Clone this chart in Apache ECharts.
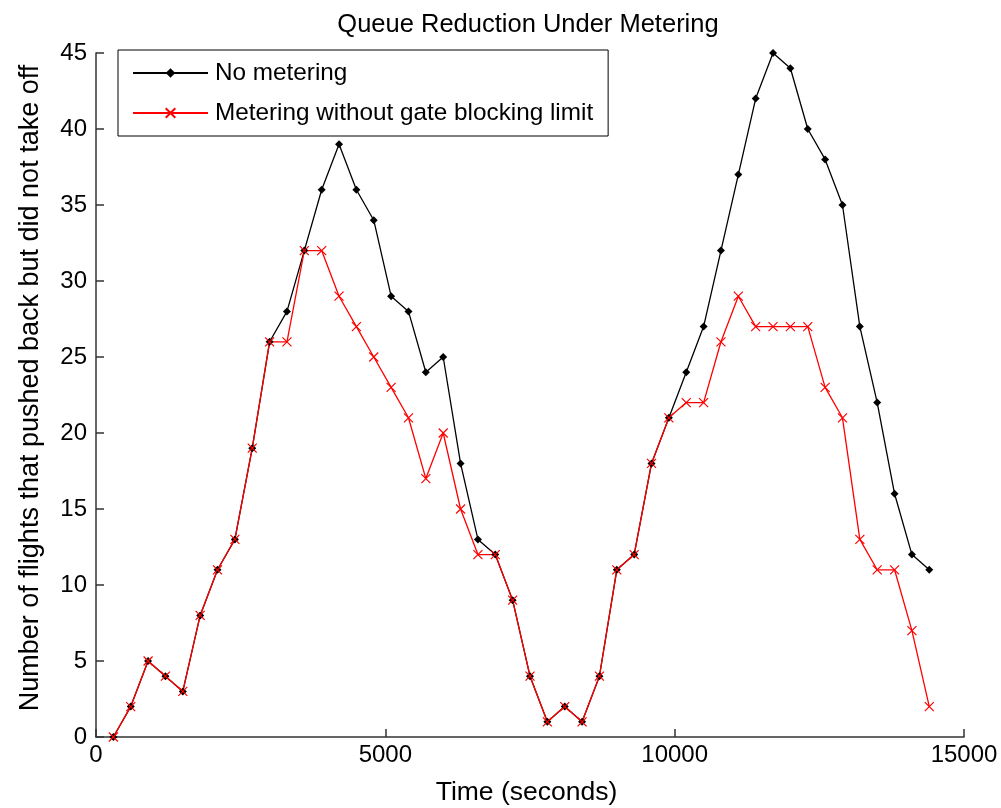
<!DOCTYPE html>
<html>
<head>
<meta charset="utf-8">
<script src="https://cdn.jsdelivr.net/npm/echarts@6/dist/echarts.min.js"></script>
<style>
html,body{margin:0;padding:0;background:#fff;}
#chart{width:1001px;height:808px;}
</style>
</head>
<body>
<div id="chart"></div>
<script>
var times = [300, 600, 900, 1200, 1500, 1800, 2100, 2400, 2700, 3000, 3300, 3600,
  3900, 4200, 4500, 4800, 5100, 5400, 5700, 6000, 6300, 6600, 6900, 7200,
  7500, 7800, 8100, 8400, 8700, 9000, 9300, 9600, 9900, 10200, 10500, 10800,
  11100, 11400, 11700, 12000, 12300, 12600, 12900, 13200, 13500, 13800, 14100, 14400];
var noMetering = [0, 2, 5, 4, 3, 8, 11, 13, 19, 26, 28, 32,
  36, 39, 36, 34, 29, 28, 24, 25, 18, 13, 12, 9,
  4, 1, 2, 1, 4, 11, 12, 18, 21, 24, 27, 32,
  37, 42, 45, 44, 40, 38, 35, 27, 22, 16, 12, 11];
var meteringNoLimit = [0, 2, 5, 4, 3, 8, 11, 13, 19, 26, 26, 32,
  32, 29, 27, 25, 23, 21, 17, 20, 15, 12, 12, 9,
  4, 1, 2, 1, 4, 11, 12, 18, 21, 22, 22, 26,
  29, 27, 27, 27, 27, 23, 21, 13, 11, 11, 7, 2];
var seriesNames = ['No metering', 'Metering without gate blocking limit'];
var xTicks = [0, 5000, 10000, 15000];
var yTicks = [0, 5, 10, 15, 20, 25, 30, 35, 40, 45];

function pairs(xs, ys) { return xs.map(function (x, i) { return [x, ys[i]]; }); }

var FONT = '"Liberation Sans", Arial, sans-serif';
var chart = echarts.init(document.getElementById('chart'), null, {renderer: 'canvas'});
chart.setOption({
  animation: false,
  backgroundColor: '#fff',
  title: {
    text: 'Queue Reduction Under Metering',
    left: 523, top: 7, textAlign: 'center',
    textStyle: {fontFamily: FONT, fontSize: 25.5, fontWeight: 'normal', color: '#000'}
  },
  grid: {left: 96, right: 37, top: 53, bottom: 71, containLabel: false, outerBoundsMode: 'none'},
  legend: {
    orient: 'vertical', left: 118, top: 50,
    padding: [11, 15, 11, 14],
    borderColor: '#000', borderWidth: 1, backgroundColor: '#fff',
    itemWidth: 75, itemHeight: 12, itemGap: 16,
    textStyle: {fontFamily: FONT, fontSize: 24.3, lineHeight: 24, color: '#000', padding: [0, 0, 0, 2]},
    data: seriesNames
  },
  xAxis: {
    type: 'value', min: xTicks[0], max: xTicks[xTicks.length - 1], interval: 5000,
    name: 'Time (seconds)', nameLocation: 'middle', nameGap: 42,
    nameTextStyle: {fontFamily: FONT, fontSize: 26.5, color: '#000', padding: [0, 7, 0, 0]},
    axisLine: {show: true, lineStyle: {color: '#333', width: 1.5}},
    axisTick: {show: true, inside: true, length: 8, lineStyle: {color: '#333', width: 1.5}},
    axisLabel: {fontFamily: FONT, fontSize: 24, color: '#000', margin: 6,
      formatter: function (v) { return String(v); }},
    splitLine: {show: false}
  },
  yAxis: {
    type: 'value', min: yTicks[0], max: yTicks[yTicks.length - 1], interval: 5,
    name: 'Number of flights that pushed back but did not take off',
    nameLocation: 'middle', nameGap: 52,
    nameTextStyle: {fontFamily: FONT, fontSize: 27, color: '#000', padding: [0, 0, 0, 14]},
    axisLine: {show: true, lineStyle: {color: '#333', width: 1.5}},
    axisTick: {show: true, inside: true, length: 8, lineStyle: {color: '#333', width: 1.5}},
    axisLabel: {fontFamily: FONT, fontSize: 24, color: '#000', margin: 9},
    splitLine: {show: false}
  },
  series: [
    {
      name: seriesNames[0], type: 'line', data: pairs(times, noMetering),
      symbol: 'diamond', symbolSize: 8, showAllSymbol: true,
      lineStyle: {color: '#000', width: 1.3},
      itemStyle: {color: '#000', borderWidth: 0}
    },
    {
      name: seriesNames[1], type: 'line', data: pairs(times, meteringNoLimit),
      symbol: 'path://M0,0L10,10M10,0L0,10', symbolSize: 9, showAllSymbol: true,
      lineStyle: {color: '#ff0000', width: 1.3},
      itemStyle: {color: '#ff0000', borderColor: '#ff0000', borderWidth: 1.2}
    }
  ]
});
</script>
</body>
</html>
